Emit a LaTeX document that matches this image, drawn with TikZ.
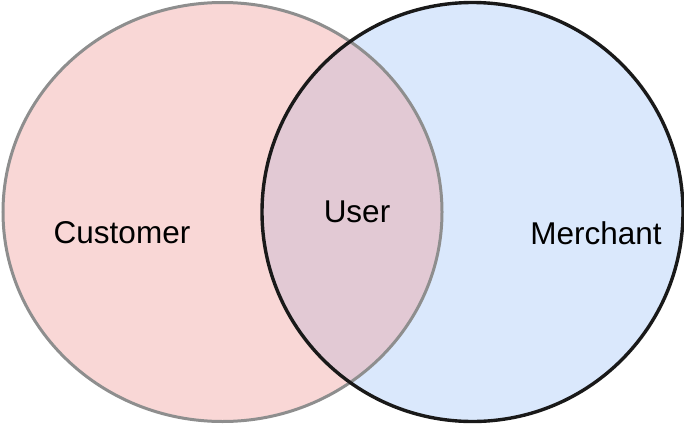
\documentclass[tikz,border=0pt]{standalone}
\usepackage{fontspec}
\setmainfont{Liberation Sans}
\definecolor{pinkfill}{HTML}{F9D7D6}
\definecolor{bluefill}{HTML}{DAE8FC}
\definecolor{mixfill}{HTML}{E2C9D4}
\definecolor{graystroke}{HTML}{8E8E8E}
\tikzset{
  lbl/.style={font=\fontsize{31.5}{36}\selectfont, text=black, inner sep=0pt}
}
\begin{document}
\begin{tikzpicture}[x=1pt,y=1pt]
\useasboundingbox (0,0) rectangle (684,424);
% fills
\fill[pinkfill] (222.5,212) ellipse [x radius=219.5, y radius=209.5];
\fill[bluefill] (472.5,212) ellipse [x radius=210.5, y radius=209.5];
\begin{scope}
  \clip (222.5,212) ellipse [x radius=219.5, y radius=209.5];
  \fill[mixfill] (472.5,212) ellipse [x radius=210.5, y radius=209.5];
\end{scope}
% strokes
\draw[graystroke, line width=3pt] (222.5,212) ellipse [x radius=219.5, y radius=209.5];
\draw[black!90, line width=3.4pt] (472.5,212) ellipse [x radius=210.5, y radius=209.5];
% labels
\node[lbl] (customer) at (122,191) {Customer};
\node[lbl] (user) at (357,212) {User};
\node[lbl] (merchant) at (596,191) {Merchant};
\end{tikzpicture}
\end{document}
